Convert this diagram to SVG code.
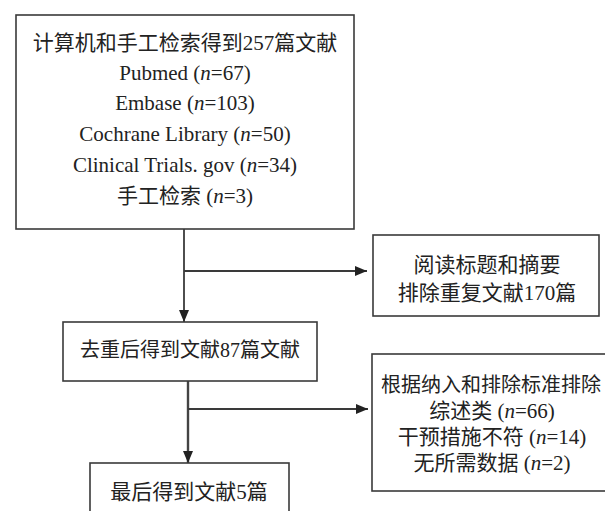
<svg xmlns="http://www.w3.org/2000/svg" width="605" height="511" viewBox="0 0 605 511">
<defs>
<style>
.box{fill:#fff;stroke:#3a3a3a;stroke-width:1.6}
.t{font-family:"Liberation Serif","Noto Sans CJK SC",serif;font-size:21px;fill:#222;text-anchor:middle}
.i{font-style:italic}
.ln{stroke:#3a3a3a;stroke-width:1.8;fill:none}
</style>
<marker id="ah" viewBox="0 0 12 10" refX="12" refY="5" markerWidth="12" markerHeight="10" markerUnits="userSpaceOnUse" orient="auto">
<path d="M0,0 L12,5 L0,10 Z" fill="#222"/>
</marker>
</defs>
<rect width="605" height="511" fill="#fff"/>
<g id="connectors">
<line class="ln" x1="184" y1="229" x2="184" y2="322" marker-end="url(#ah)"/>
<line class="ln" x1="184" y1="271" x2="367" y2="271" marker-end="url(#ah)"/>
<line class="ln" x1="188" y1="381" x2="188" y2="463" marker-end="url(#ah)" style="stroke:#444;stroke-width:2.4"/>
<line class="ln" x1="188" y1="409" x2="368" y2="409" marker-end="url(#ah)"/>
</g>
<g id="search">
<rect class="box" x="16" y="15" width="338" height="214"/>
<text class="t" x="185" y="50">计算机和手工检索得到257篇文献</text>
<text class="t" x="185" y="80">Pubmed (<tspan class="i">n</tspan>=67)</text>
<text class="t" x="185" y="110">Embase (<tspan class="i">n</tspan>=103)</text>
<text class="t" x="185" y="141">Cochrane Library (<tspan class="i">n</tspan>=50)</text>
<text class="t" x="185" y="172">Clinical Trials. gov (<tspan class="i">n</tspan>=34)</text>
<text class="t" x="185" y="203">手工检索 (<tspan class="i">n</tspan>=3)</text>
</g>
<g id="exclude1">
<rect class="box" x="373" y="235" width="226" height="81"/>
<text class="t" x="487" y="272">阅读标题和摘要</text>
<text class="t" x="487" y="300">排除重复文献170篇</text>
</g>
<g id="dedup">
<rect class="box" x="63" y="322" width="254" height="59"/>
<text class="t" x="190" y="357" style="font-size:20px">去重后得到文献87篇文献</text>
</g>
<g id="exclude2">
<rect class="box" x="372" y="354" width="250" height="137"/>
<text class="t" x="491" y="392" style="font-size:20px">根据纳入和排除标准排除</text>
<text class="t" x="492" y="418">综述类 (<tspan class="i">n</tspan>=66)</text>
<text class="t" x="492" y="444">干预措施不符 (<tspan class="i">n</tspan>=14)</text>
<text class="t" x="492" y="470">无所需数据 (<tspan class="i">n</tspan>=2)</text>
</g>
<g id="final">
<rect class="box" x="90" y="463" width="199" height="60"/>
<text class="t" x="189" y="499">最后得到文献5篇</text>
</g>
</svg>
